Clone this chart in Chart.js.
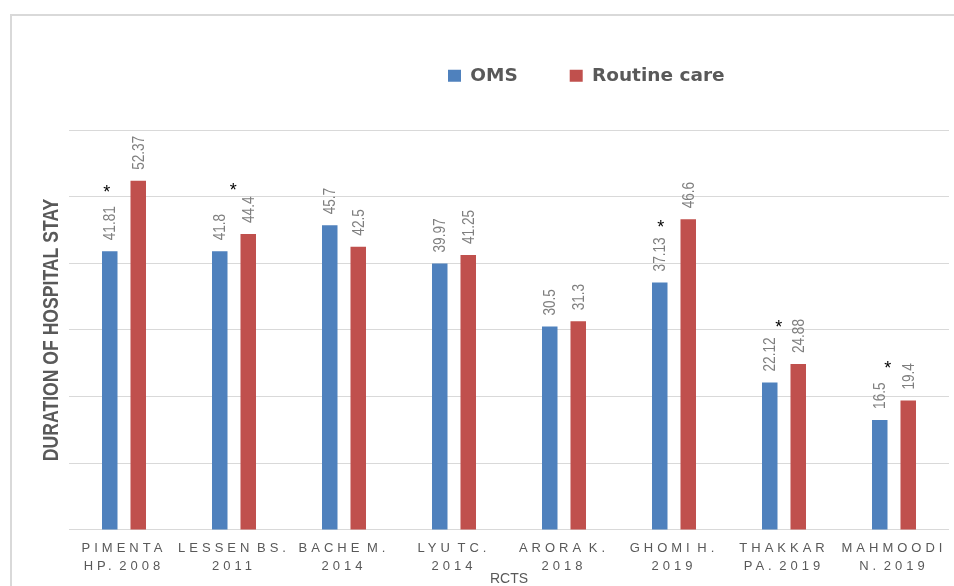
<!DOCTYPE html>
<html lang="en">
<head>
    <meta charset="UTF-8">
    <title>Duration of hospital stay</title>
    <script src="https://cdn.jsdelivr.net/npm/chart.js"></script>
    <style>
        body { margin: 0; background: #fff; overflow: hidden; }
        #frame { position: absolute; left: 10px; top: 14px; width: 1000px; height: 600px;
                 border-left: 2px solid #d9d9d9; border-top: 2px solid #d9d9d9; }
        #wrap { position: absolute; left: 0; top: 0; width: 954px; height: 586px; }
    </style>
</head>
<body>
    <div id="frame"></div>
    <div id="wrap"><canvas id="chartCanvas"></canvas></div>

    <script>
        // data
        const studies = [
            ['PIMENTA', 'HP. 2008'], ['LESSEN BS.', '2011'], ['BACHE M.', '2014'], ['LYU TC.', '2014'],
            ['ARORA K.', '2018'], ['GHOMI H.', '2019'], ['THAKKAR', 'PA. 2019'], ['MAHMOODI', 'N. 2019']
        ];
        const omsValues = [41.81, 41.8, 45.7, 39.97, 30.5, 37.13, 22.12, 16.5];
        const routineValues = [52.37, 44.4, 42.5, 41.25, 31.3, 46.6, 24.88, 19.4];
        // significance marks (*), height in axis units, null = none
        const asteriskValues = [51.2, 51.5, null, null, null, 45.9, 30.9, 24.8];
        const yMin = 0, yMax = 60, yStep = 10;
        const yTitle = 'DURATION OF HOSPITAL STAY';

        // styling
        const asteriskShift = [-3, 13.5, 0, 0, 0, 1, 9, 8];   // px from OMS bar centre
        const legendShift = { x: 327, y: -35 };
        const sans = '"Liberation Sans", Arial, sans-serif';

        // the figure's text is narrow along its length: squeeze rotated text
        function drawSqueezed(ctx, text, x, y, squeeze) {
            ctx.save();
            ctx.translate(x, y);
            ctx.rotate(-Math.PI / 2);
            ctx.scale(squeeze, 1);
            ctx.fillText(text, 0, 0);
            ctx.restore();
        }

        const barLabels = {
            id: 'barLabels',
            afterDatasetsDraw(chart) {
                const ctx = chart.ctx;
                ctx.save();
                ctx.font = '16px ' + sans;
                ctx.fillStyle = '#7f7f7f';
                ctx.textAlign = 'left';
                ctx.textBaseline = 'middle';
                chart.data.datasets.forEach((ds, di) => {
                    chart.getDatasetMeta(di).data.forEach((bar, i) => {
                        drawSqueezed(ctx, String(ds.data[i]), bar.x + 1, bar.y - 11, 0.85);
                    });
                });
                const oms = chart.getDatasetMeta(0).data;
                ctx.fillStyle = '#000';
                ctx.font = '18px ' + sans;
                ctx.textAlign = 'center';
                asteriskValues.forEach((v, i) => {
                    if (v === null) return;
                    ctx.fillText('*', oms[i].x + asteriskShift[i], chart.scales.y.getPixelForValue(v) + 4);
                });
                ctx.restore();
                // x tick labels are drawn after this (ticks.z = 1): spaced letters
                ctx.letterSpacing = '4px';
                ctx.wordSpacing = '-4px';
            },
            afterDraw(chart) {
                const ctx = chart.ctx;
                ctx.letterSpacing = '0px';
                ctx.wordSpacing = '0px';
                const area = chart.chartArea;
                ctx.save();
                ctx.font = 'bold 22px ' + sans;
                ctx.fillStyle = '#595959';
                ctx.textAlign = 'center';
                ctx.textBaseline = 'middle';
                drawSqueezed(ctx, yTitle, 52, (area.top + area.bottom) / 2, 0.8);
                ctx.restore();
            }
        };

        const legendNudge = {
            id: 'legendNudge',
            afterLayout(chart) {
                const lg = chart.legend;
                lg.left += legendShift.x; lg.right += legendShift.x;
                lg.top += legendShift.y; lg.bottom += legendShift.y;
            }
        };

        const ctx = document.getElementById('chartCanvas').getContext('2d');
        new Chart(ctx, {
            type: 'bar',
            data: {
                labels: studies,
                datasets: [
                    { label: 'OMS', data: omsValues, backgroundColor: '#4f81bd' },
                    { label: 'Routine care', data: routineValues, backgroundColor: '#c0504d' }
                ]
            },
            options: {
                responsive: true,
                maintainAspectRatio: false,
                animation: false,
                devicePixelRatio: 1,
                barPercentage: 0.544,
                categoryPercentage: 0.518,
                layout: { padding: { left: 69, right: 5, top: 49.5, bottom: 0 } },
                scales: {
                    x: {
                        grid: { display: false, drawTicks: false },
                        border: { display: false },
                        ticks: {
                            z: 1,
                            autoSkip: false,
                            maxRotation: 0,
                            padding: 10,
                            color: '#595959',
                            font: { family: sans, size: 13, lineHeight: 1.35 }
                        },
                        title: {
                            display: true,
                            text: 'RCTS',
                            color: '#595959',
                            padding: { top: -13, bottom: 0 },
                            font: { family: sans, size: 14, lineHeight: 1 }
                        }
                    },
                    y: {
                        min: yMin,
                        max: yMax,
                        ticks: { display: false, stepSize: yStep },
                        grid: { color: '#d9d9d9', lineWidth: 1, drawTicks: false },
                        border: { display: false }
                    }
                },
                plugins: {
                    tooltip: { enabled: false },
                    legend: {
                        display: true,
                        position: 'top',
                        align: 'start',
                        labels: {
                            boxWidth: 13,
                            boxHeight: 12,
                            padding: 52,
                            color: '#595959',
                            font: { family: '"DejaVu Sans", sans-serif', size: 18.5, weight: 'bold' }
                        }
                    }
                }
            },
            plugins: [barLabels, legendNudge]
        });
    </script>
</body>
</html>
